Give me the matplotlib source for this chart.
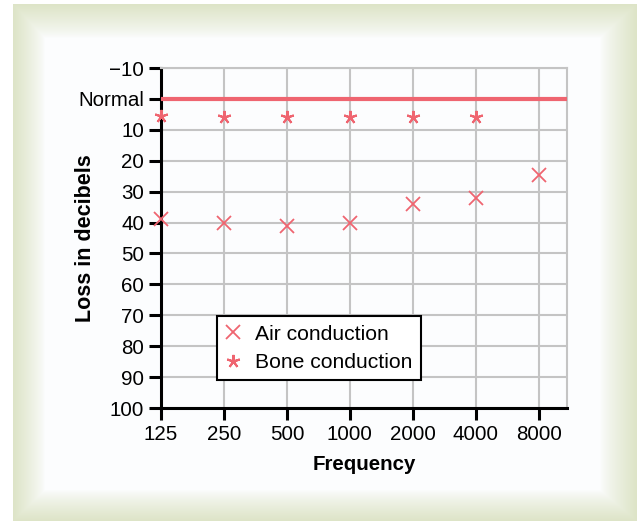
import matplotlib.pyplot as plt
import numpy as np

plt.rcParams['font.family'] = ['Liberation Sans', 'DejaVu Sans']

frequencies = ['125', '250', '500', '1000', '2000', '4000', '8000']
airConduction = [39, 40, 41, 40, 34, 32, 24.5]
boneFrequencies = ['125', '250', '500', '1000', '2000', '4000']
boneConduction = [5.5, 6, 6, 6, 6, 6]
yTicks = [-10, 0, 10, 20, 30, 40, 50, 60, 70, 80, 90, 100]
yTickLabels = ['\u221210', 'Normal', '10', '20', '30', '40', '50', '60', '70', '80', '90', '100']

red = '#ef6570'
green = np.array([221, 228, 199]) / 255.0
white = np.array([252, 253, 254]) / 255.0

W, H = 641, 521
fig = plt.figure(figsize=(W / 100, H / 100), dpi=100)
fig.patch.set_facecolor('white')

# beveled green frame behind the chart
bg = fig.add_axes([0, 0, 1, 1])
yy, xx = np.mgrid[0:H, 0:W] + 0.5
left, right, top, bottom = 45, 600, 38, 490
tl = np.clip((left - xx) / (left - 13), 0, 1)
tr = np.clip((xx - right) / (637 - right), 0, 1)
tt = np.clip((top - yy) / (top - 4), 0, 1)
tb = np.clip((yy - bottom) / (521 - bottom), 0, 1)
t = np.maximum.reduce([tl, tr, tt, tb]) ** 0.8
img = white[None, None, :] * (1 - t[..., None]) + green[None, None, :] * t[..., None]
outside = (xx < 13) | (xx > 637) | (yy < 4)
img[outside] = 1.0
bg.imshow(img, extent=[0, W, H, 0], aspect='auto', interpolation='bilinear')
bg.set_xlim(0, W)
bg.set_ylim(H, 0)
bg.axis('off')

ax = fig.add_axes([161 / W, 1 - 408 / H, (567 - 161) / W, (408 - 68) / H])
ax.set_facecolor(white)
x = np.arange(len(frequencies))
xb = np.arange(len(boneFrequencies))

ax.axhline(0, color=red, lw=3, zorder=3)
ax.plot(x, airConduction, ls='none', marker='x', ms=9.5, mew=1.3, color=red,
        label='Air conduction', clip_on=False, zorder=4)
ax.plot(xb, boneConduction, ls='none', marker=(5, 2, 0), ms=9.5, mew=1.5, color=red,
        label='Bone conduction', clip_on=False, zorder=4)

ax.set_xlim(0, 6.45)
ax.set_ylim(100, -10)
ax.set_xticks(x)
ax.set_xticklabels(frequencies)
ax.set_yticks(yTicks)
ax.set_yticklabels(yTickLabels)
ax.grid(True, color='#c4c4c4', lw=1.5)
ax.set_axisbelow(True)

for s in ['left', 'bottom']:
    ax.spines[s].set_linewidth(2.2)
    ax.spines[s].set_color('black')
for s in ['top', 'right']:
    ax.spines[s].set_linewidth(1.5)
    ax.spines[s].set_color('#c4c4c4')

ax.tick_params(direction='out', length=8.5, width=2.2, labelsize=14.8, pad=3.5)
ax.set_xlabel('Frequency', fontsize=14.8, fontweight='bold', labelpad=8)
ax.set_ylabel('Loss in decibels', fontsize=15.5, fontweight='bold')
ax.yaxis.set_label_coords(-0.161, 0.5)

leg = ax.legend(loc='lower left', bbox_to_anchor=(0.138, 0.081), fontsize=15.2,
                frameon=True, fancybox=False, edgecolor='black', framealpha=1,
                handlelength=0.7, handletextpad=0.7, borderpad=0.4, labelspacing=0.45,
                borderaxespad=0)
leg.get_frame().set_linewidth(1.5)

fig.savefig('out.png', dpi=100)
